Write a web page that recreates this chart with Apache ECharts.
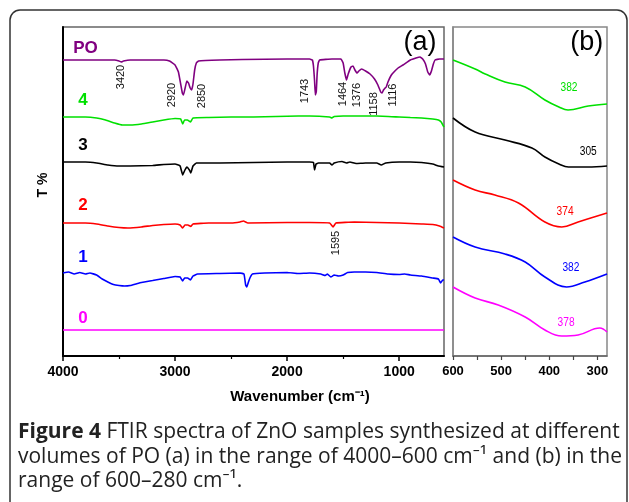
<!DOCTYPE html>
<html>
<head>
<meta charset="utf-8">
<script src="https://cdn.jsdelivr.net/npm/echarts@6/dist/echarts.min.js"></script>
<style>
  html, body { margin: 0; padding: 0; background: #fff; }
  #chart { width: 629px; height: 502px; }
</style>
</head>
<body>
<div id="chart"></div>
<script>
// FTIR 光谱图：(a) 4000–600 cm-1，(b) 600–280 cm-1
// 纵轴为偏移后的透过率（任意单位）

// ---------- 数据 ----------
// (a) 每条曲线: [波数, T]
const poA = [[4000,296],[3700,296],[3540,296],[3500,295],[3480,294],[3460,295],[3400,296],[3100,296],[3050,295],[3000,291],[2970,284],[2950,272],[2935,263],[2925,261],[2910,268],[2895,275],[2880,273],[2865,268],[2852,266],[2840,272],[2825,286],[2810,293],[2790,295],[2600,296],[2400,296.5],[2000,297],[1800,297],[1775,296],[1765,290],[1755,275],[1748,261],[1740,264],[1732,282],[1722,293],[1710,296],[1600,297],[1520,297],[1500,293],[1485,283],[1470,276],[1455,282],[1430,289],[1412,290],[1395,286],[1376,283],[1360,285],[1335,287],[1300,285],[1260,282],[1220,277],[1190,271],[1165,264],[1153,263],[1140,266],[1125,268],[1115,269],[1100,274],[1075,280],[1055,283],[1010,288],[966,291],[900,296],[850,298],[814,299],[790,297],[765,292],[745,284],[728,281],[712,285],[695,292],[680,296],[640,297],[600,297]];
const s4A = [[4000,239],[3800,239],[3700,238],[3620,236],[3540,233],[3470,231],[3400,231],[3300,232],[3200,234],[3100,236],[3000,237.5],[2950,237],[2932,232],[2915,236],[2890,236],[2862,234],[2840,238],[2700,238.5],[2500,239],[2300,239],[2100,239.5],[1900,240],[1800,240],[1620,239],[1600,238],[1580,239.5],[1500,240],[1400,240],[1200,240],[1000,239],[900,238.5],[800,238],[700,237],[650,236],[625,234],[610,231],[600,229]];
const s3A = [[4000,194],[3800,194],[3700,193],[3600,191],[3500,190],[3400,190],[3200,190.5],[3100,191.5],[3000,192],[2955,190],[2932,181],[2912,186],[2895,189],[2872,186],[2860,183],[2840,190],[2810,193],[2600,193],[2300,193.5],[2000,194],[1800,194],[1765,193.5],[1755,186],[1742,192],[1720,193],[1620,193],[1600,191],[1580,193],[1510,194.5],[1470,193],[1440,194],[1385,192.5],[1300,193],[1200,193],[1160,191],[1120,193],[1000,194],[900,194],[800,193.5],[700,192],[650,190],[600,189]];
const s2A = [[4000,133],[3800,133],[3700,132],[3600,130],[3500,128.5],[3420,128],[3300,129],[3200,130.5],[3100,131.5],[3000,132],[2955,131],[2932,128],[2912,131],[2885,131],[2860,129.5],[2840,132],[2700,133],[2500,133],[2420,134],[2390,135],[2350,133],[2000,133.5],[1800,133.5],[1620,133],[1590,129],[1565,133],[1400,134],[1200,133.5],[1000,133],[900,132.5],[800,132],[700,131.5],[640,130],[600,128]];
const s1A = [[4000,83],[3950,84],[3900,82],[3850,83.5],[3800,82],[3760,83],[3700,81],[3650,77],[3600,74],[3550,71.5],[3500,70.5],[3450,70],[3400,70.5],[3350,72],[3300,73.5],[3200,75.5],[3100,77.5],[3000,79.5],[2955,79],[2932,75],[2915,78],[2888,78],[2862,76],[2840,80],[2800,82],[2600,82.5],[2420,83],[2385,82],[2370,71],[2360,69],[2345,74],[2332,78],[2310,82],[2200,83],[2000,83.5],[1900,82.5],[1800,83],[1700,82],[1660,80.5],[1640,82],[1610,79],[1580,81],[1540,80],[1500,81],[1460,83.5],[1400,84],[1300,84],[1200,83.5],[1100,82],[1000,81.5],[950,82],[900,81],[800,80],[700,78],[650,77],[630,73],[612,76],[600,76]];
const s0A = [[4000,26],[600,26]];

// (b) 每条曲线: [波数, T]
const s4B = [[600,296],[554,287],[533,282],[492,274],[450,269],[409,256],[380,249],[361,246],[319,250],[280,252]];
const s3B = [[600,238],[554,224],[492,216],[436,208],[409,199],[380,192],[360,189],[320,189],[280,190]];
const s2B = [[600,176],[554,166],[513,161],[464,153],[409,134],[374,129],[340,134],[280,143]];
const s1B = [[600,119],[554,109],[492,102],[450,94],[409,79],[364,69],[326,74],[280,82]];
const s0B = [[600,69],[554,58],[506,51],[450,39],[409,26],[374,20],[340,21],[295,28],[280,24]];

// 坐标轴刻度
const aTicks = [4000, 3000, 2000, 1000];
const aMinorTicks = [3500, 2500, 1500];
const bTicks = [600, 500, 400, 300];
const bAllTicks = [600, 550, 500, 450, 400, 350, 300];

// 曲线名称与颜色
const seriesNames = ['PO', '4', '3', '2', '1', '0'];
const seriesColors = ['#800080', '#00e000', '#000000', '#ff0000', '#0000ff', '#ff00ff'];

// 标注文字: [文字, 波数, T]
const peakLabels = [['3420',3487,279],['2920',3027,261],['2850',2760,260],['1743',1840,265],['1464',1501,262],['1376',1376,261],['1158',1225,252],['1116',1055,261],['1595',1564,113]];
const nameLabels = [['PO',3800,308],['4',3822,256],['3',3822,211],['2',3822,151],['1',3822,99],['0',3822,38]];
const bLabels = [['382',359,268],['305',319,204],['374',367,144],['382',355,88],['378',365,33]];

const chart = echarts.init(document.getElementById('chart'));

const FONT = 'Arial, "Liberation Sans", sans-serif';

function lineSeries(data, color, xi, yi) {
    return {
        type: 'line', data, xAxisIndex: xi, yAxisIndex: yi,
        showSymbol: false, symbol: 'none', smooth: xi >= 2 ? 0.4 : 0.1,
        lineStyle: { color, width: 1.6 }, silent: true
    };
}

const aData = [poA, s4A, s3A, s2A, s1A, s0A];
const bData = [null, s4B, s3B, s2B, s1B, s0B];
const series = [];
aData.forEach((d, i) => series.push(lineSeries(d, seriesColors[i], 0, 0)));
bData.forEach((d, i) => { if (d) series.push(lineSeries(d, seriesColors[i], 2, 1)); });

chart.setOption({
    animation: false,
    grid: [
        { left: 63, top: 27, width: 381, height: 329, show: true, borderColor: '#666', borderWidth: 1.5 },
        { left: 453, top: 27, width: 154, height: 329, show: true, borderColor: '#888', borderWidth: 1.5 }
    ],
    xAxis: [
        { gridIndex: 0, type: 'value', min: 600, max: 4000, inverse: true,
          axisLine: { lineStyle: { color: '#000', width: 2 } },
          axisTick: { customValues: aTicks, length: 5, lineStyle: { color: '#000', width: 1.5 } },
          axisLabel: { customValues: aTicks, formatter: v => String(v), margin: 9, color: '#000',
                       fontWeight: 'bold', fontSize: 14, fontFamily: FONT },
          splitLine: { show: false } },
        { gridIndex: 0, type: 'value', min: 600, max: 4000, inverse: true, position: 'bottom',
          axisLine: { show: false },
          axisTick: { customValues: aMinorTicks, length: 3, lineStyle: { color: '#000', width: 1.2 } },
          axisLabel: { show: false }, splitLine: { show: false } },
        { gridIndex: 1, type: 'value', min: 280, max: 600, inverse: true,
          axisLine: { lineStyle: { color: '#666', width: 1.5 } },
          axisTick: { customValues: bAllTicks, length: 4, lineStyle: { color: '#444', width: 1.2 } },
          axisLabel: { customValues: bTicks, formatter: v => String(v), margin: 9, color: '#000',
                       fontWeight: 'bold', fontSize: 13, fontFamily: FONT },
          splitLine: { show: false } }
    ],
    yAxis: [
        { gridIndex: 0, type: 'value', min: 0, max: 329,
          axisLine: { show: true, lineStyle: { color: '#000', width: 2 } },
          axisTick: { show: false }, axisLabel: { show: false }, splitLine: { show: false } },
        { gridIndex: 1, type: 'value', min: 0, max: 329,
          axisLine: { show: true, lineStyle: { color: '#888', width: 1.5 } },
          axisTick: { show: false }, axisLabel: { show: false }, splitLine: { show: false } }
    ],
    series
});

// ---------- 文字标注（按数据坐标换算像素位置） ----------
function txt(text, pos, opt) {
    return Object.assign({
        type: 'text', x: pos[0], y: pos[1], silent: true,
        style: Object.assign({ text, textAlign: 'center', textVerticalAlign: 'middle',
            align: 'center', verticalAlign: 'middle', fill: '#000', font: '12px ' + FONT }, opt.style || {})
    }, opt.el || {});
}
const toA = p => chart.convertToPixel({ xAxisIndex: 0, yAxisIndex: 0 }, p);
const toB = p => chart.convertToPixel({ xAxisIndex: 2, yAxisIndex: 1 }, p);

const graphics = [];
// 外框
graphics.push({ type: 'rect', silent: true, shape: { x: 10, y: 10, width: 617, height: 540, r: 10 },
    style: { fill: 'none', stroke: '#333', lineWidth: 1.5 }, z: -1 });

peakLabels.forEach(l => graphics.push(txt(l[0], toA([l[1], l[2]]), {
    style: { font: '11px ' + FONT, fill: '#111' }, el: { rotation: Math.PI / 2 } })));
nameLabels.forEach((l, i) => graphics.push(txt(l[0], toA([l[1], l[2]]), {
    style: { font: 'bold 17px ' + FONT, fill: seriesColors[i] } })));
bLabels.forEach((l, i) => graphics.push(txt(l[0], toB([l[1], l[2]]), {
    style: { font: '12px ' + FONT, fill: seriesColors[i + 1] }, el: { scaleX: 0.85 } })));

graphics.push(txt('(a)', toA([814, 313]), { style: { font: '27px ' + FONT } }));
graphics.push(txt('(b)', toB([322, 313]), { style: { font: '27px ' + FONT } }));

// 轴标题
graphics.push(txt('T %', [43, 185], { style: { font: 'bold 14px ' + FONT }, el: { rotation: Math.PI / 2 } }));
graphics.push(txt('Wavenumber (cm\u207B\u00B9)', [300, 397], { style: { font: 'bold 15px ' + FONT } }));

// 图注
const capFamily = '"Open Sans", "Noto Sans", sans-serif';
const capRich = { b: { fontWeight: 'bold', fontSize: 21, fontFamily: capFamily, fill: '#222' } };
const captionLines = [
    '{b|Figure 4} FTIR spectra of ZnO samples synthesized at different',
    'volumes of PO (a) in the range of 4000\u2013600 cm\u207B\u00B9 and (b) in the',
    'range of 600\u2013280 cm\u207B\u00B9.'
];
const captionY = [432, 457, 481];
captionLines.forEach((t, i) => graphics.push({
    type: 'text', x: 18, y: captionY[i], silent: true,
    style: { text: t, font: '21px ' + capFamily, fill: '#222', textAlign: 'left', align: 'left',
        textVerticalAlign: 'middle', verticalAlign: 'middle', rich: capRich }
}));

chart.setOption({ graphic: graphics });
</script>
</body>
</html>
